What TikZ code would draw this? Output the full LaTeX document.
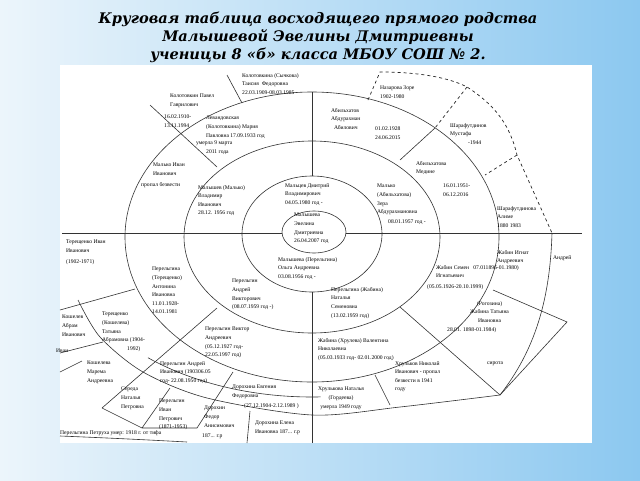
\documentclass[tikz,border=0pt]{standalone}
\usepackage{fontspec}
\usetikzlibrary{calc}
\setmainfont{Liberation Serif}
\newfontfamily\titlefont{DejaVu Serif}
\begin{document}
\begin{tikzpicture}[x=1pt,y=-1pt,
  t/.style={anchor=north west,align=left,inner sep=0pt,font=\fontsize{5.6}{8.6}\selectfont},
  ln/.style={draw=black!80,line width=0.6pt},
  dl/.style={draw=black!85,line width=0.7pt,dashed}]
\useasboundingbox (0,0) rectangle (640,480);
\shade[left color={rgb,255:red,236;green,245;blue,251},right color={rgb,255:red,140;green,200;blue,240}] (0,0) rectangle (640,480);
\fill[white] (60,65) rectangle (592,443);
\node[font=\titlefont\bfseries\itshape\fontsize{14.6}{18}\selectfont,align=center] (title) at (318,37)
 {Круговая таблица восходящего прямого родства\\Малышевой Эвелины Дмитриевны\\ученицы 8 «б» класса МБОУ СОШ № 2.};
% rings
\coordinate (c) at (312,237);
\draw[ln] (314,232) ellipse [x radius=32pt,y radius=21pt];
\draw[ln] (312,234) ellipse [x radius=70pt,y radius=58pt];
\draw[ln] (c) ellipse [x radius=128pt,y radius=96pt];
\draw[ln] (c) ellipse [x radius=187pt,y radius=145pt];
% axes
\coordinate (h1) at (62,233); \coordinate (h2) at (282,233);
\coordinate (h3) at (346,233); \coordinate (h4) at (582,233);
\draw[ln] (h1)--(h2) (h3)--(h4);
\coordinate (v1) at (312,92); \coordinate (v2) at (312,176);
\coordinate (v3) at (312,292); \coordinate (v4) at (312,443);
\draw[ln] (v1)--(v2) (v3)--(v4);
% top-left outer
\draw[ln] ($(c)+(229:250pt and 160pt)$) arc[start angle=229,end angle=272,x radius=250pt,y radius=160pt];
\coordinate (a1) at (150,105); \coordinate (a2) at (217,167);
\coordinate (a3) at (227,75); \coordinate (a4) at (242,103);
\draw[ln] (a1)--(a2) (a3)--(a4);
% top-right dashed
\coordinate (d1) at (380,72); \coordinate (d2) at (368,100);
\coordinate (d3) at (467,87); \coordinate (d4) at (435,128);
\coordinate (d5) at (517,155); \coordinate (d6) at (485,175);
\coordinate (d7) at (552,233);
\draw[dl] (d2)--(d1) .. controls (420,72) and (450,78) .. (d3) .. controls (495,105) and (510,125) .. (d5) -- (d7);
\draw[dl] (d3)--(d4) (d5)--(d6);
\coordinate (r3a) at (400,160);
\draw[ln] (r3a)--(d4);
% right-bottom
\coordinate (e1) at (500,395); \coordinate (e2) at (567,322);
\coordinate (e3) at (493,290); \coordinate (e4) at (400,307);
\coordinate (e5) at (375,375); \coordinate (e6) at (390,405);
\draw[ln] (d7) .. controls (550,300) and (535,350) .. (e1);
\draw[ln] (e3)--(e2)--(e1)--(e4) (e5)--(e6);
% outer bottom arc
\draw[ln] plot[smooth] coordinates {(78,300) (100,337) (143,372) (207,398) (312,415) (400,407) (e1)};
% bottom-left lines
\coordinate (b1) at (102,408); \coordinate (b2) at (217,308);
\coordinate (b3) at (170,388); \coordinate (b4) at (142,428);
\coordinate (b5) at (233,372); \coordinate (b6) at (197,428);
\coordinate (b7) at (250,411); \coordinate (b8) at (247,443);
\coordinate (b9) at (60,310); \coordinate (b10) at (135,289);
\coordinate (b11) at (60,353); \coordinate (b12) at (103,342);
\coordinate (b13) at (60,372); \coordinate (b14) at (82,361);
\draw[ln] (b1)--(b2) (b3)--(b4)--(b1) (b5)--(b6) (b4)--(b6) (b7)--(b8)
 (b9)--(b10) (b11)--(b12) (b13)--(b14);
\draw[ln] (60,436) .. controls (110,438) and (150,440) .. (187,442);
% texts
\node[t] (n1) at (242,73) {Колотовкина (Сычкова)\\Таисия \ Федоровна\\22.03.1909-08.03.1985};
\node[t] (n2) at (170,94) {Колотовкин Павел\\Гаврилович};
\node[t] (n3) at (164,115) {16.02.1910-\\13.11.1994};
\node[t] (n4) at (206,116) {Левандовская\\(Колотовкина) Мария\\Павловна 17.09.1933 год\\[-1pt]\hspace*{-10pt}умерла 9 марта\\2011 года};
\node[t] (n5) at (153,163) {Малько Иван\\Иванович};
\node[t] (n6) at (141,182) {пропал безвести};
\node[t] (n7) at (198,185) {Малышев (Малько)\\Владимир\\Иванович\\28.12. 1956 год};
\node[t] (n8) at (285,183) {Мальцев Дмитрий\\Владимирович\\04.05.1980 год -};
\node[t] (n9) at (294,213) {Малышева\\Эвелина\\Дмитриевна\\26.04.2007 год};
\node[t] (n10) at (331,108) {Абильхатов\\Абдурахман\\\ \ Абилович};
\node[t] (n11) at (375,127) {01.02.1928\\24.06.2015};
\node[t] (n12) at (380,86) {Назарова Зоре\\1902-1980};
\node[t] (n13) at (450,123) {Шарафутдинов\\Мустафа\\\hspace*{18pt}-1944};
\node[t] (n14) at (416,161) {Абильхатова\\Медине};
\node[t] (n15) at (377,184) {Малько\\(Абильхатова)\\Зера\\Абдурахмановна};
\node[t] (n16) at (388,220) {08.01.1957 год -};
\node[t] (n17) at (443,184) {16.01.1951-\\06.12.2016};
\node[t] (n18) at (497,206) {Шарафутдинова\\Алиме\\1880 1983};
\node[t] (n19) at (66,240) {Терещенко Иван\\Иванович\\[2pt](1902-1971)};
\node[t] (n20) at (278,257) {Малышева (Перельгина)\\Ольга Андреевна\\03.08.1956 год -};
\node[t] (n21) at (152,267) {Перельгина\\(Терещенко)\\Антонина\\Ивановна\\11.01.1928-\\14.01.1981};
\node[t] (n22) at (232,279) {Перельгин\\Андрей\\Викторович\\(08.07.1959 год -)};
\node[t] (n23) at (331,287) {Перельгина (Жабина)\\Наталья\\Семеновна\\(13.02.1959 год)};
\node[t] (n24) at (497,250) {Жабин Игнат\\Андреевич};
\node[t] (n25) at (553,255) {Андрей};
\node[t] (n26) at (436,265) {Жабин Семен \ \ 07.011896-01.1980)\\Игнатьевич\\[2pt]\hspace*{-9pt}(05.05.1926-20.10.1999)};
\node[t,align=center] (n27) at (470,301) {(Рогозина)\\Жабина Татьяна\\Ивановна};
\node[t] (n28) at (447,327) {28.01. 1898-01.1984)};
\node[t] (n29) at (318,338) {Жабина (Хрулева) Валентина\\Николаевна\\(05.03.1933 год- 02.01.2000 год)};
\node[t] (n30) at (395,361) {Хрульков Николай\\Иванович - пропал\\безвести в 1941\\году};
\node[t] (n31) at (487,362) {сирота};
\node[t,align=center] (n32) at (318,387) {Хрулькова Наталья\\(Гордеева)\\умерла 1949 году};
\node[t] (n33) at (102,312) {Терещенко\\(Кошелева)\\Татьяна\\Абрамовна (1904-\\\hspace*{25pt}1992)};
\node[t] (n34) at (62,315) {Кошелев\\Абрам\\Иванович};
\node[t] (n35) at (56,349) {Иван};
\node[t] (n36) at (87,361) {Кошелева\\Марема\\Андреевна};
\node[t] (n37) at (121,387) {Середа\\Наталья\\Петровна};
\node[t] (n38) at (205,327) {Перельгин Виктор\\Андреевич\\(05.12.1927 год-\\22.05.1997 год)};
\node[t] (n39) at (160,361) {Перельгин Андрей\\Иванович (190306.05\\год- 22.08.1950 год)};
\node[t] (n40) at (159,399) {Перельгин\\Иван\\Петрович\\(1871-1953)};
\node[t] (n41) at (60,430) {Перельгина Петруха умер: 1918 г. от тифа};
\node[t] (n42) at (204,406) {Дорохин\\Федор\\Анисимович};
\node[t] (n43) at (202,434) {187... г.р};
\node[t] (n44) at (232,385) {Дорохина Евгения\\Федоровна};
\node[t] (n45) at (244,403) {(27.12.1904-2.12.1989 )};
\node[t] (n46) at (255,421) {Дорохина Елена\\Ивановна 187... г.р};
\end{tikzpicture}
\end{document}
